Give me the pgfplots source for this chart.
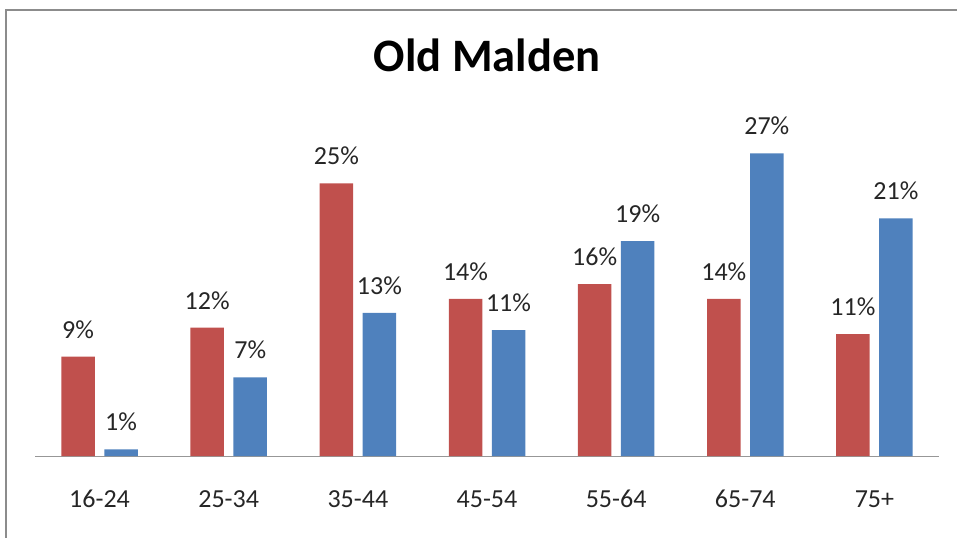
\documentclass[border=0pt]{standalone}
\usepackage{fontspec}
\setmainfont{Carlito}
\usepackage{pgfplots}
\pgfplotsset{compat=1.18}

\definecolor{barred}{HTML}{C0504D}
\definecolor{barblue}{HTML}{4F81BD}
\definecolor{framegray}{HTML}{8C8C8C}
\definecolor{labelgray}{HTML}{262626}

\begin{document}
\begin{tikzpicture}
  \begin{axis}[
    name=ax, at={(0,0)}, anchor=south west,
    scale only axis, width=904bp, height=356bp,
    ybar, bar width=33.5bp, bar shift auto,
    ymin=0, ymax=32.13, xmin=-0.5, xmax=6.5,
    axis y line=none, axis x line*=bottom,
    x axis line style={color=framegray!90, line width=1bp},
    xtick=data, major tick length=0,
    xticklabels={16-24,25-34,35-44,45-54,55-64,65-74,75+},
    xticklabel style={anchor=base, yshift=-51bp, text=labelgray,
      font=\fontsize{26bp}{30bp}\selectfont},
    clip=false,
    /pgf/number format/assume math mode=true,
    nodes near coords={\pgfmathprintnumber[fixed,precision=0]{\pgfplotspointmeta}\%},
    every node near coord/.append style={anchor=base, yshift=18.5bp,
      text=labelgray, font=\fontsize{26bp}{30bp}\selectfont},
    title={\bfseries Old Malden},
    title style={at={(0.5,1)}, anchor=base, yshift=23bp,
      font=\fontsize{46.5bp}{52bp}\selectfont},
  ]
    % red series
    \addplot[fill=barred, draw=none, bar shift=-21.5bp] coordinates {
      (0,8.96) (1,11.58) (2,24.61) (3,14.17) (4,15.52) (5,14.17) (6,11.01)
    };
    % blue series
    \addplot[fill=barblue, draw=none, bar shift=21.5bp] coordinates {
      (0,0.60) (1,7.10) (2,12.91) (3,11.37) (4,19.40) (5,27.32) (6,21.45)
    };
  \end{axis}
  \pgfresetboundingbox
  \path[use as bounding box] (-35bp,-82bp) rectangle (922bp,456bp);
  \draw[framegray, line width=2bp] (-29bp,-100bp) rectangle (940bp,446bp);
\end{tikzpicture}
\end{document}
